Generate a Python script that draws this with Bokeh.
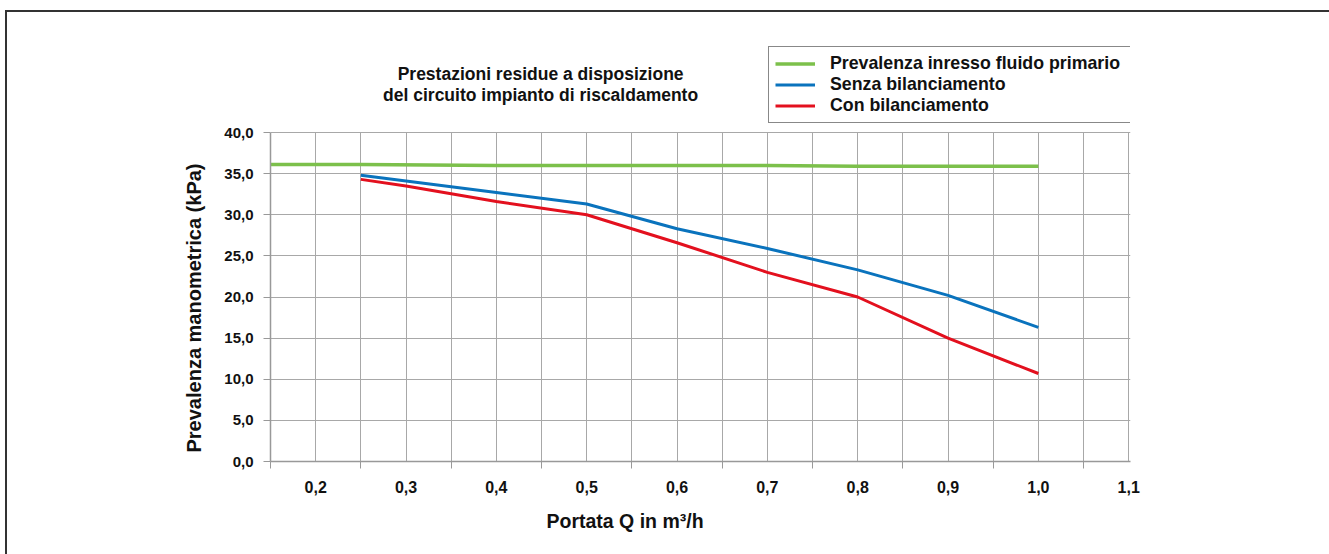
from bokeh.plotting import figure
from bokeh.models import FixedTicker, Label, Legend, LegendItem, Title, Grid
from bokeh.embed import file_html
from bokeh.resources import INLINE

# ---- data ----
green_x = [0.15, 0.25, 0.4, 0.5, 0.6, 0.7, 0.8, 0.9, 1.0]
green_y = [36.1, 36.1, 36.0, 36.0, 36.0, 36.0, 35.9, 35.9, 35.9]

flow_q = [0.25, 0.3, 0.4, 0.5, 0.6, 0.7, 0.8, 0.9, 1.0]
senza_bil = [34.8, 34.1, 32.7, 31.3, 28.3, 25.9, 23.3, 20.2, 16.3]
con_bil = [34.3, 33.5, 31.6, 30.0, 26.6, 23.0, 20.0, 15.0, 10.7]

series_names = ["Prevalenza inresso fluido primario", "Senza bilanciamento", "Con bilanciamento"]

x_ticks = [0.2, 0.3, 0.4, 0.5, 0.6, 0.7, 0.8, 0.9, 1.0, 1.1]
x_tick_labels = ["0,2", "0,3", "0,4", "0,5", "0,6", "0,7", "0,8", "0,9", "1,0", "1,1"]
x_minor = [0.15, 0.25, 0.35, 0.45, 0.55, 0.65, 0.75, 0.85, 0.95, 1.05]
y_ticks = [0, 5, 10, 15, 20, 25, 30, 35, 40]
y_tick_labels = ["0,0", "5,0", "10,0", "15,0", "20,0", "25,0", "30,0", "35,0", "40,0"]

title_lines = ["Prestazioni residue a disposizione", "del circuito impianto di riscaldamento"]
x_title = "Portata Q in m³/h"
y_title = "Prevalenza manometrica (kPa)"

FONT = "Liberation Sans"
GREEN = "#7cc04b"
BLUE = "#0a73bd"
RED = "#e3101e"
GRID = "#a8a8a8"
Y_TOP = 56.05     # frame extends to canvas top, so annotations above the 40 line are not clipped

p = figure(width=1329, height=554, output_backend="svg", toolbar_location=None, title=None,
           x_range=(0.15, 1.102), y_range=(0, Y_TOP),
           min_border_left=270, min_border_right=199, min_border_top=0, min_border_bottom=93)
p.background_fill_alpha = 0
p.border_fill_alpha = 0
p.outline_line_color = None
p.styles = {
    "background-color": "white",
    "background-image": "linear-gradient(#333, #333), linear-gradient(#333, #333)",
    "background-position": "5px 10px, 5px 10px",
    "background-size": "calc(100% - 5px) 2px, 2px calc(100% - 10px)",
    "background-repeat": "no-repeat, no-repeat",
}

xt = FixedTicker(ticks=x_ticks, minor_ticks=x_minor)
yt = FixedTicker(ticks=y_ticks)
p.xaxis.ticker = xt
p.yaxis.ticker = yt
p.xgrid.ticker = xt
p.ygrid.ticker = yt
p.yaxis.bounds = (0, 40)
p.xaxis.major_label_overrides = dict(zip(x_ticks, x_tick_labels))
p.yaxis.major_label_overrides = dict(zip(y_ticks, y_tick_labels))

p.ygrid.grid_line_color = GRID
p.ygrid.grid_line_width = 1
if "cross_bounds" in Grid.properties():
    p.xgrid.cross_bounds = (0, 40)
    p.xgrid.grid_line_color = GRID
    p.xgrid.grid_line_width = 1
    p.xgrid.minor_grid_line_color = GRID
    p.xgrid.minor_grid_line_width = 1
else:
    p.xgrid.visible = False
    gx = x_ticks + x_minor
    p.segment(x0=gx, y0=[0] * len(gx), x1=gx, y1=[40] * len(gx),
              line_color=GRID, line_width=1, level="underlay")

for ax in (p.xaxis, p.yaxis):
    ax.axis_line_color = "#999999"
    ax.axis_line_width = 1.5
    ax.major_tick_line_color = "#999999"
    ax.minor_tick_line_color = "#999999"
    ax.major_label_text_font = FONT
    ax.major_label_text_font_style = "bold"
    ax.major_label_text_font_size = "15px"
    ax.major_label_text_color = "#111111"

p.xaxis.major_label_text_font_size = "16px"
p.xaxis.major_tick_out = 0
p.xaxis.major_tick_in = 0
p.xaxis.minor_tick_out = 7
p.xaxis.minor_tick_in = 0
p.xaxis.major_label_standoff = 12
p.yaxis.major_tick_out = 7
p.yaxis.major_tick_in = 0
p.yaxis.minor_tick_out = 0
p.yaxis.minor_tick_in = 0
p.yaxis.major_label_standoff = 10

r_green = p.line(green_x, green_y, line_color=GREEN, line_width=3.5)
r_blue = p.line(flow_q, senza_bil, line_color=BLUE, line_width=3)
r_red = p.line(flow_q, con_bil, line_color=RED, line_width=3)

legend = Legend(items=[LegendItem(label=series_names[0], renderers=[r_green]),
                       LegendItem(label=series_names[1], renderers=[r_blue]),
                       LegendItem(label=series_names[2], renderers=[r_red])],
                location=(498, 338))
legend.label_text_font = FONT
legend.label_text_font_style = "bold"
legend.label_text_font_size = "17.75px"
legend.label_text_color = "#111111"
legend.glyph_width = 40
legend.glyph_height = 19
legend.label_height = 19
legend.label_width = 296
legend.spacing = 0
legend.padding = 6
legend.margin = 0
legend.label_standoff = 15
legend.border_line_color = "#111111"
legend.border_line_width = 1.5
legend.background_fill_alpha = 1
p.add_layout(legend, "center")

for txt, yy in zip(title_lines, [47.17, 44.5]):
    p.add_layout(Label(x=0.449, y=yy, text=txt, text_align="center", text_baseline="middle",
                       text_font=FONT, text_font_style="bold", text_font_size="17.5px",
                       text_color="#111111"))

p.add_layout(Title(text=y_title, align="left", offset=9, standoff=34,
                   text_font=FONT, text_font_style="bold", text_font_size="20px",
                   text_color="#111111"), "left")

p.add_layout(Title(text=x_title, align="left", offset=276, standoff=24,
                   text_font=FONT, text_font_style="bold", text_font_size="19.5px",
                   text_color="#111111"), "below")

open("out.html", "w").write(file_html(p, INLINE))
